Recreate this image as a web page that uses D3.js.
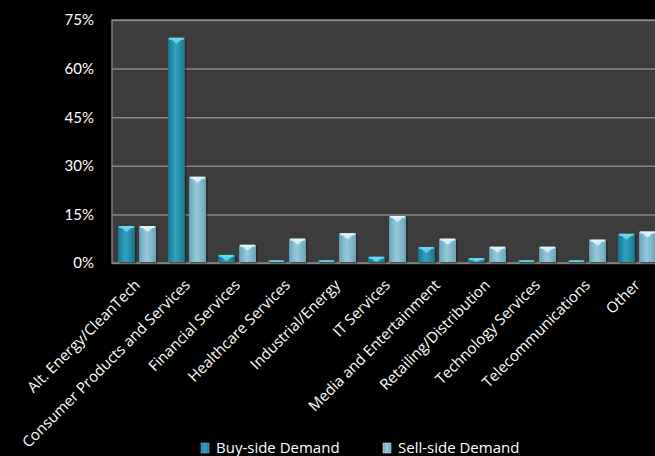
<!DOCTYPE html>
<html>
<head>
<meta charset="utf-8">
<script src="https://cdn.jsdelivr.net/npm/d3@7"></script>
<style>
  body { margin: 0; background: #000; }
  svg { display: block; }
  text { font-family: "Open Sans", Lato, sans-serif; fill: #fff; }
</style>
</head>
<body>
<div id="chart"></div>
<script>
var categories = ["Alt. Energy/CleanTech", "Consumer Products and Services", "Financial Services",
  "Healthcare Services", "Industrial/Energy", "IT Services", "Media and Entertainment",
  "Retailing/Distribution", "Technology Services", "Telecommunications", "Other"];
var buySide = [11.4, 69.5, 2.5, 0.8, 0.8, 1.9, 4.9, 1.5, 0.8, 0.8, 9.0];
var sellSide = [11.4, 26.6, 5.6, 7.5, 9.2, 14.5, 7.5, 5.0, 5.0, 7.2, 9.7];
var yTicks = [0, 15, 30, 45, 60, 75];
var seriesNames = ["Buy-side Demand", "Sell-side Demand"];

var width = 655, height = 456;
var plot = { left: 112, right: 662, top: 20, bottom: 263 };

var svg = d3.select('#chart').append('svg')
    .attr('width', width)
    .attr('height', height);

var defs = svg.append('defs');
function barGradient(id, edge, mid) {
    var g = defs.append('linearGradient').attr('id', id)
        .attr('x1', 0).attr('x2', 1).attr('y1', 0).attr('y2', 0);
    g.append('stop').attr('offset', '0%').attr('stop-color', edge);
    g.append('stop').attr('offset', '45%').attr('stop-color', mid);
    g.append('stop').attr('offset', '100%').attr('stop-color', edge);
}
barGradient('gBuy', '#1a7590', '#2ea3c2');
barGradient('gSell', '#6aa4b9', '#94cade');

var x = d3.scaleBand().domain(categories).range([plot.left, plot.right]).paddingInner(0).paddingOuter(0);
var x1 = d3.scaleBand().domain([0, 1]).range([6, x.bandwidth() - 6]).paddingInner(0.2);
var y = d3.scaleLinear().domain([0, 75]).range([plot.bottom, plot.top]);

// plot background
svg.append('rect')
    .attr('x', plot.left).attr('y', plot.top)
    .attr('width', plot.right - plot.left).attr('height', plot.bottom - plot.top)
    .attr('fill', '#3c3c3c')
    .attr('stroke', '#7f7f7f').attr('stroke-width', 1.5);

// gridlines + y labels
var yAxis = d3.axisLeft(y).tickValues(yTicks).tickSize(-(plot.right - plot.left))
    .tickFormat(function (d) { return d + '%'; }).tickPadding(18);
var gy = svg.append('g').attr('transform', 'translate(' + plot.left + ',0)').call(yAxis);
gy.select('.domain').remove();
gy.selectAll('line').attr('stroke', '#858585').attr('stroke-width', 1.5);
gy.selectAll('text').attr('fill', '#fff').style('font-size', '15px')
    .style('font-family', 'Lato, "Open Sans", sans-serif');

var series = [
    { name: seriesNames[0], values: buySide, fill: 'url(#gBuy)', cap: '#6fdaf2', idx: 0 },
    { name: seriesNames[1], values: sellSide, fill: 'url(#gSell)', cap: '#e2f5fb', idx: 1 }
];

series.forEach(function (s) {
    var g = svg.append('g');
    var bw = x1.bandwidth();
    s.values.forEach(function (v, i) {
        var bx = x(categories[i]) + x1(s.idx);
        var by = y(v);
        var bh = y(0) - by - 1;
        // shadow
        g.append('rect')
            .attr('x', bx + 1.5).attr('y', by + 1.5)
            .attr('width', bw).attr('height', Math.max(bh, 1))
            .attr('fill', '#000').attr('opacity', 0.35);
        g.append('rect')
            .attr('x', bx).attr('y', by)
            .attr('width', bw).attr('height', Math.max(bh, 1))
            .attr('fill', s.fill);
        var capH = Math.min(6, bh);
        g.append('path')
            .attr('d', 'M' + (bx + 1) + ',' + by + 'L' + (bx + bw - 1) + ',' + by +
                'L' + (bx + bw / 2) + ',' + (by + capH) + 'Z')
            .attr('fill', s.cap).attr('opacity', 0.85);
        g.append('rect')
            .attr('x', bx + 1).attr('y', by)
            .attr('width', bw - 2).attr('height', Math.min(2, bh))
            .attr('fill', s.cap).attr('opacity', 0.8);
    });
});

// category labels
svg.append('g').selectAll('text')
    .data(categories)
    .join('text')
    .attr('transform', function (d) {
        return 'translate(' + (x(d) + x.bandwidth() / 2 + 4) + ',' + 286 + ') rotate(-45)';
    })
    .attr('text-anchor', 'end')
    .style('font-size', '15px')
    .text(function (d) { return d; });

// legend
var legendX = [201, 383];
series.forEach(function (s, i) {
    var lg = svg.append('g').attr('transform', 'translate(' + legendX[i] + ',443)');
    lg.append('rect').attr('width', 8).attr('height', 10).attr('y', 0)
        .attr('fill', s.fill).attr('stroke', s.cap).attr('stroke-width', 0.5);
    lg.append('text').attr('x', 15).attr('y', 10)
        .style('font-size', '15px')
        .text(s.name);
});
</script>
</body>
</html>
